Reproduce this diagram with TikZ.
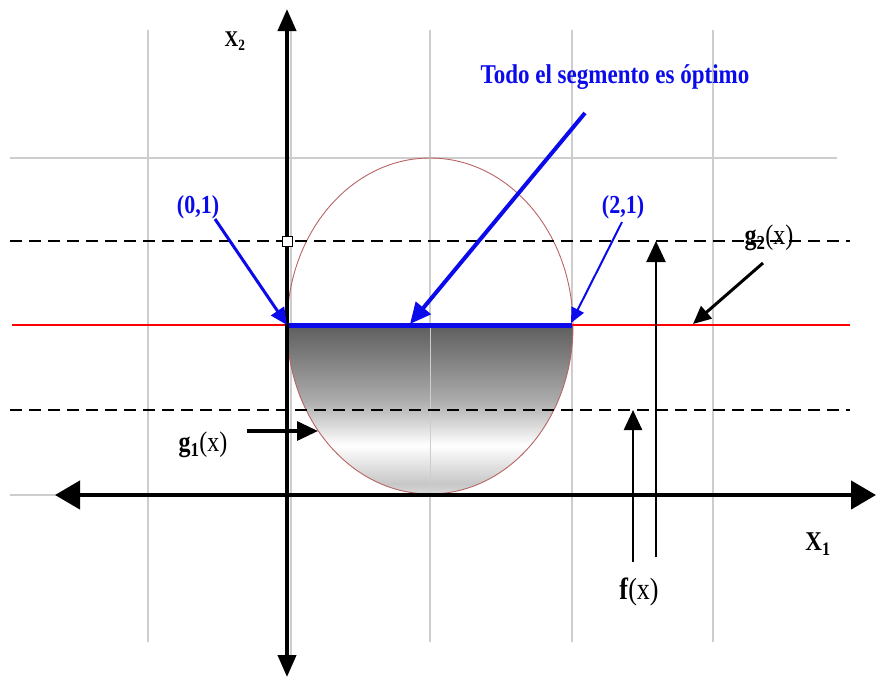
\documentclass[tikz,border=0pt]{standalone}
\usepackage{fontspec}
\setmainfont{Liberation Serif}
\usetikzlibrary{arrows.meta}
\definecolor{rimred}{RGB}{185,100,100}
\definecolor{gridgray}{RGB}{205,205,205}
\definecolor{segblue}{RGB}{10,10,235}
\pgfdeclareverticalshading{bowlshade}{100bp}{color(0bp)=(black!15); color(25bp)=(black!15);
  color(28bp)=(black!22); color(39.5bp)=(white); color(53bp)=(black!33);
  color(75bp)=(black!63); color(100bp)=(black!63)}
\newcommand{\tallbox}[1]{\scalebox{1}[1.18]{#1}}
\newcommand{\fsz}[1]{\fontsize{#1}{#1}\selectfont}

\begin{document}
\begin{tikzpicture}[x=1pt,y=-1pt,
   gridline/.style={gridgray,line width=1.3pt},
   level/.style={dash pattern=on 12pt off 7pt,line width=1.3pt},
   axisline/.style={line width=4.5pt},
   lbl/.style={inner sep=0pt},
   bluetip/.style={-{Triangle[length=#1,width=0.9*#1]}},
   blacktip/.style={-{Triangle[length=#1,width=0.9*#1]}}]
  \useasboundingbox (0,0) rectangle (876,681);
  % grid
  \foreach \gx in {148,430,572,713}
    \draw[gridline] (\gx,30) -- (\gx,642);
  \draw[gridline] (10,158) -- (837,158);
  \draw[gridline] (10,495) -- (850,495);
  \draw[gridline] (291,30) -- (291,660);
  % feasible region
  \shade[shading=bowlshade] (287,326) arc[start angle=180,end angle=0,x radius=143,y radius=168] -- cycle;
  \draw[gridgray,line width=1pt] (430,326) -- (430,495);
  \draw[rimred,line width=0.9pt] (430,326) ellipse [x radius=143,y radius=168];
  % level lines
  \draw[level] (10,241) -- (850,241);
  \draw[level] (10,410) -- (850,410);
  \draw[red,line width=2pt] (12,325) -- (850,325);
  \coordinate (p01) at (287,325);
  \coordinate (p21) at (572,325);
  \draw[segblue,line width=5pt] (p01) -- (p21);
  % axes
  \coordinate (xl) at (55,495);
  \coordinate (xr) at (876,495);
  \coordinate (yt) at (287,9);
  \coordinate (yb) at (287,677);
  \draw[axisline,{Triangle[length=25pt,width=28pt]}-{Triangle[length=25pt,width=28pt]}] (xl) -- (xr);
  \draw[line width=4pt,{Triangle[length=22pt,width=18pt]}-{Triangle[length=22pt,width=18pt]}] (yb) -- (yt);
  \node[draw,fill=white,line width=1pt,minimum size=10pt,inner sep=0pt] (mark) at (287,241) {};
  % labels
  \node[lbl,font=\bfseries\fsz{19}] (xtwo) at (235,41) {\tallbox{X\textsubscript{2}}};
  \node[lbl,font=\bfseries\fsz{23}] (xone) at (818,544) {\tallbox{X\textsubscript{1}}};
  \node[lbl,segblue,font=\bfseries\fsz{23}] (title) at (615,77) {\tallbox{Todo el segmento es óptimo}};
  \node[lbl,segblue,font=\bfseries\fsz{22}] (l01) at (198,207) {\tallbox{(0,1)}};
  \node[lbl,segblue,font=\bfseries\fsz{22}] (l21) at (623,207) {\tallbox{(2,1)}};
  \node[lbl,font=\fsz{24}] (gtwo) at (769,238) {\tallbox{\textbf{g\textsubscript{2}}(x)}};
  \node[lbl,font=\fsz{24}] (gone) at (203,445) {\tallbox{\textbf{g\textsubscript{1}}(x)}};
  \node[lbl,font=\fsz{26}] (fx) at (639,592) {\tallbox{\textbf{f}(x)}};
  % pointers
  \coordinate (tstart) at (585,113);
  \coordinate (tend) at (410,324);
  \draw[segblue,line width=4pt,bluetip=21pt] (tstart) -- (tend);
  \coordinate (a01) at (215,219);
  \draw[segblue,line width=3pt,bluetip=17pt] (a01) -- (p01);
  \coordinate (a21) at (622,222);
  \draw[segblue,line width=2pt,bluetip=15pt] (a21) -- ([shift={(-1,-2)}]p21);
  \coordinate (g2s) at (763,263);
  \coordinate (g2e) at (693,324);
  \draw[line width=3pt,blacktip=18pt] (g2s) -- (g2e);
  \coordinate (g1s) at (247,431);
  \coordinate (g1e) at (318,431);
  \draw[line width=3.5pt,blacktip=21pt] (g1s) -- (g1e);
  \coordinate (f1s) at (633,562);
  \coordinate (f1e) at (633,410);
  \draw[line width=2.5pt,blacktip=20pt] (f1s) -- (f1e);
  \coordinate (f2s) at (656,557);
  \coordinate (f2e) at (656,241);
  \draw[line width=2.5pt,blacktip=21pt] (f2s) -- (f2e);
\end{tikzpicture}
\end{document}
